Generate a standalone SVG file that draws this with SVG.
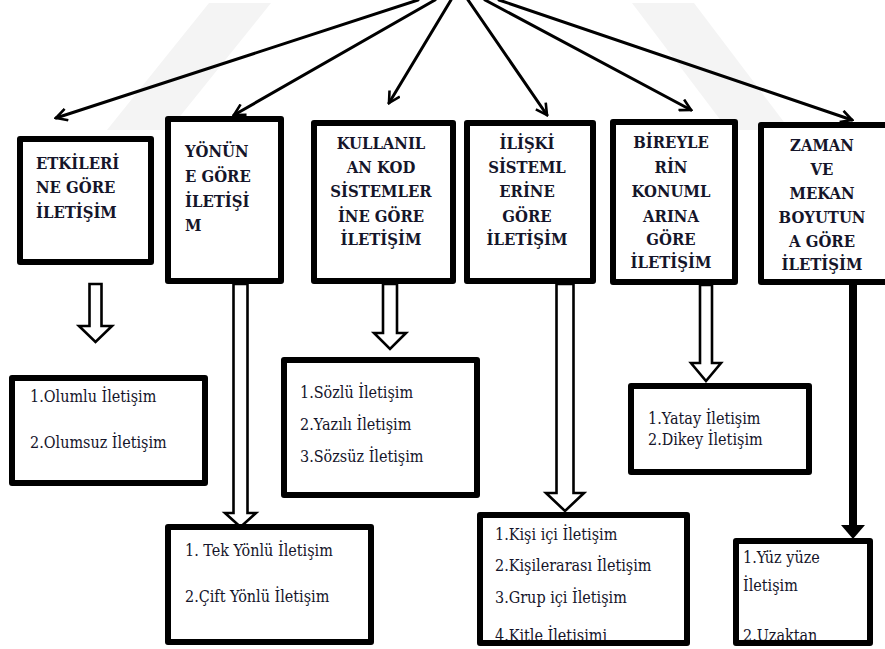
<svg xmlns="http://www.w3.org/2000/svg" width="885" height="649" viewBox="0 0 885 649">
<style>
.box{fill:#fff;stroke:#000;stroke-width:6;stroke-linejoin:round}
.hd{font-family:'DejaVu Serif Condensed','DejaVu Serif',serif;font-stretch:condensed;font-weight:bold;font-size:16.5px;fill:#15152a}
.hc{text-anchor:middle}
.li{font-family:'DejaVu Serif Condensed','DejaVu Serif',serif;font-stretch:condensed;font-size:16px;fill:#15152a}
.ln{fill:none;stroke:#000;stroke-width:3;stroke-linecap:round}
.blk{fill:#fff;stroke:#000;stroke-width:2.6;stroke-linejoin:miter}
.wm{fill:#f4f4f4}
</style>
<defs>
<marker id="open" viewBox="0 0 14 14" refX="12" refY="7" markerWidth="14" markerHeight="14" markerUnits="userSpaceOnUse" orient="auto">
<path d="M1,1 L12,7 L1,13" fill="none" stroke="#000" stroke-width="2.6"/>
</marker>
<clipPath id="clipK"><rect x="480" y="515" width="207" height="125"/></clipPath>
<clipPath id="clipY"><rect x="736" y="541" width="134" height="99"/></clipPath>
</defs>
<rect width="885" height="649" fill="#fff"/>
<g id="watermark">
<polygon class="wm" points="209,3 271,3 169,130 107,130"/>
<polygon class="wm" points="632,3 694,3 790,130 728,130"/>
</g>
<g id="connectors">
<line class="ln" x1="418" y1="0" x2="56" y2="118" marker-end="url(#open)"/>
<line class="ln" x1="435" y1="0" x2="234" y2="115" marker-end="url(#open)"/>
<line class="ln" x1="451" y1="0" x2="389" y2="103" marker-end="url(#open)"/>
<line class="ln" x1="468" y1="0" x2="547" y2="115" marker-end="url(#open)"/>
<line class="ln" x1="485" y1="0" x2="691" y2="110" marker-end="url(#open)"/>
<line class="ln" x1="499" y1="0" x2="852" y2="120" marker-end="url(#open)"/>
<path class="blk" d="M89.5,284 H101.5 V326 H112 L95.5,342 L79,326 H89.5 Z"/>
<path class="blk" d="M233.5,284 H247.5 V513 H256 L240.5,527 L225,513 H233.5 Z"/>
<path class="blk" d="M383,284 H397 V333 H406 L390,349 L374,333 H383 Z"/>
<path class="blk" d="M556.5,284 H573.5 V493 H584 L565,511 L546,493 H556.5 Z"/>
<path class="blk" d="M700,285 H712 V363 H721 L706,381 L691,363 H700 Z"/>
<line x1="853" y1="285" x2="853" y2="528" stroke="#000" stroke-width="8"/>
<polygon points="841,525 865,525 853,539" fill="#000"/>
</g>
<g id="n-etkileri">
<rect class="box" x="20" y="139" width="131" height="123"/>
<text class="hd" x="36" y="169">ETKİLERİ</text>
<text class="hd" x="36" y="193">NE GÖRE</text>
<text class="hd" x="36" y="218">İLETİŞİM</text>
</g>
<g id="n-yonune">
<rect class="box" x="168" y="119" width="113" height="162"/>
<text class="hd" x="185" y="157">YÖNÜN</text>
<text class="hd" x="185" y="182">E GÖRE</text>
<text class="hd" x="185" y="207">İLETİŞİ</text>
<text class="hd" x="185" y="231">M</text>
</g>
<g id="n-kod">
<rect class="box" x="314" y="123" width="139" height="158"/>
<text class="hd hc" x="381" y="149">KULLANIL</text>
<text class="hd hc" x="381" y="173">AN KOD</text>
<text class="hd hc" x="381" y="197">SİSTEMLER</text>
<text class="hd hc" x="381" y="222">İNE GÖRE</text>
<text class="hd hc" x="381" y="245">İLETİŞİM</text>
</g>
<g id="n-iliski">
<rect class="box" x="467" y="123" width="126" height="158"/>
<text class="hd hc" x="527" y="149">İLİŞKİ</text>
<text class="hd hc" x="527" y="173">SİSTEML</text>
<text class="hd hc" x="527" y="197">ERİNE</text>
<text class="hd hc" x="527" y="222">GÖRE</text>
<text class="hd hc" x="527" y="245">İLETİŞİM</text>
</g>
<g id="n-konum">
<rect class="box" x="613" y="122" width="122" height="160"/>
<text class="hd hc" x="671" y="148">BİREYLE</text>
<text class="hd hc" x="671" y="173">RİN</text>
<text class="hd hc" x="671" y="197">KONUML</text>
<text class="hd hc" x="671" y="222">ARINA</text>
<text class="hd hc" x="671" y="245">GÖRE</text>
<text class="hd hc" x="671" y="268">İLETİŞİM</text>
</g>
<g id="n-zaman">
<rect class="box" x="761" y="125" width="130" height="157"/>
<text class="hd hc" x="822" y="151">ZAMAN</text>
<text class="hd hc" x="822" y="175">VE</text>
<text class="hd hc" x="822" y="199">MEKAN</text>
<text class="hd hc" x="822" y="223">BOYUTUN</text>
<text class="hd hc" x="822" y="247">A GÖRE</text>
<text class="hd hc" x="822" y="270">İLETİŞİM</text>
</g>
<g id="n-olumlu">
<rect class="box" x="12" y="378" width="193" height="105"/>
<text class="li" x="30" y="402">1.Olumlu İletişim</text>
<text class="li" x="30" y="448">2.Olumsuz İletişim</text>
</g>
<g id="n-sozlu">
<rect class="box" x="284" y="360" width="193" height="135"/>
<text class="li" x="300" y="398">1.Sözlü İletişim</text>
<text class="li" x="300" y="430">2.Yazılı İletişim</text>
<text class="li" x="300" y="462">3.Sözsüz İletişim</text>
</g>
<g id="n-yatay">
<rect class="box" x="631" y="386" width="178" height="86"/>
<text class="li" x="648" y="424">1.Yatay İletişim</text>
<text class="li" x="648" y="445">2.Dikey İletişim</text>
</g>
<g id="n-tek">
<rect class="box" x="168" y="527" width="203" height="115"/>
<text class="li" x="185" y="556">1. Tek Yönlü İletişim</text>
<text class="li" x="185" y="602">2.Çift Yönlü İletişim</text>
</g>
<g id="n-kisi">
<rect class="box" x="480" y="515" width="207" height="128"/>
<g clip-path="url(#clipK)">
<text class="li" x="495" y="540">1.Kişi içi İletişim</text>
<text class="li" x="495" y="571">2.Kişilerarası İletişim</text>
<text class="li" x="495" y="603">3.Grup içi İletişim</text>
<text class="li" x="495" y="641">4.Kitle İletişimi</text>
</g>
</g>
<g id="n-yuz">
<rect class="box" x="736" y="541" width="134" height="102"/>
<g clip-path="url(#clipY)">
<text class="li" x="743" y="563">1.Yüz yüze</text>
<text class="li" x="743" y="591">İletişim</text>
<text class="li" x="743" y="641">2.Uzaktan</text>
</g>
</g>
</svg>
